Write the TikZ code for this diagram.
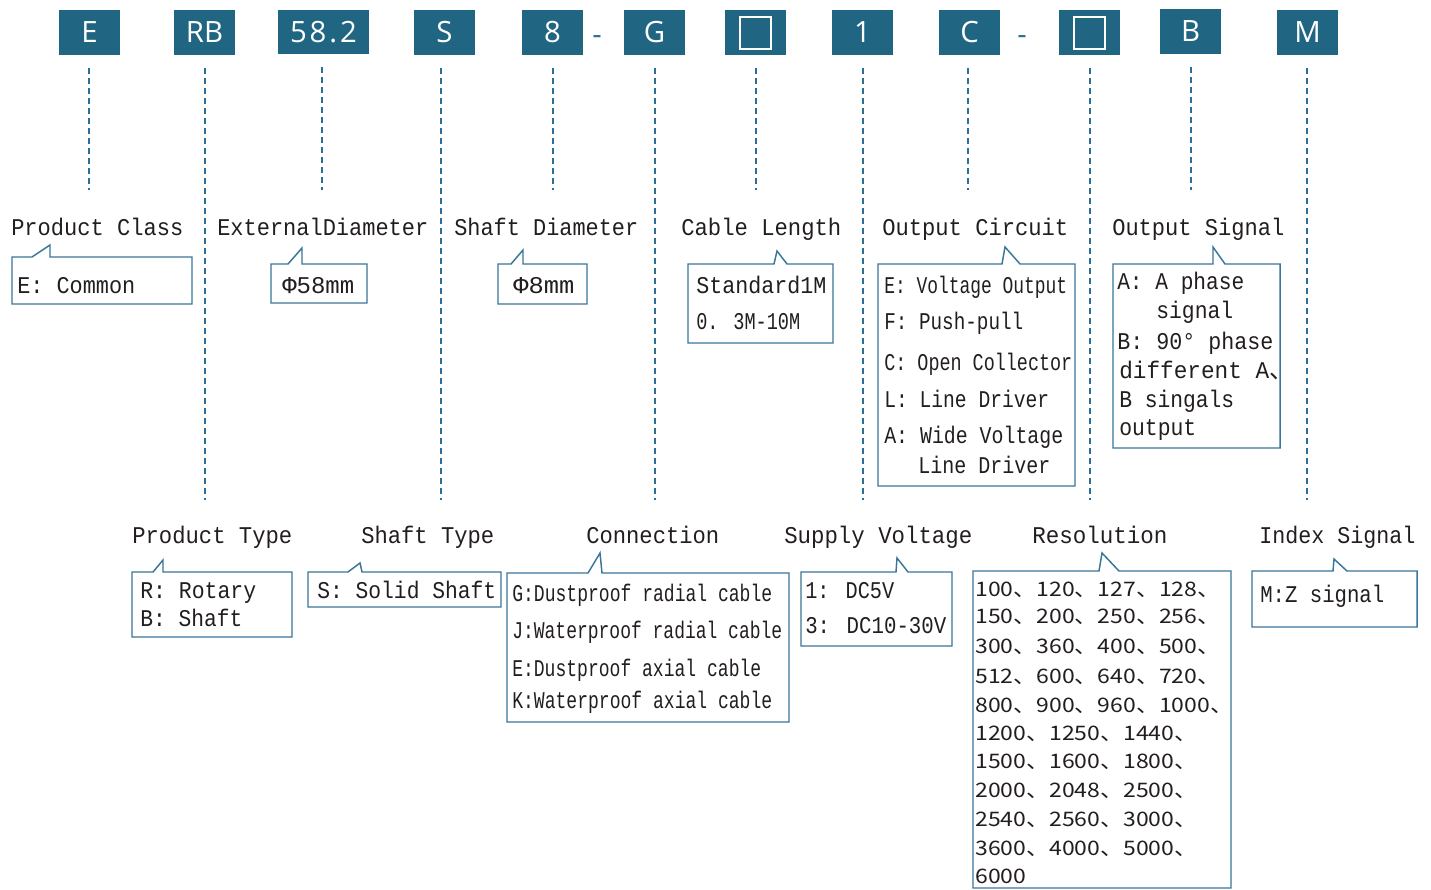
\documentclass[tikz,border=0pt]{standalone}
\usepackage{fontspec}
\usepackage{graphicx}
\usetikzlibrary{calc}
\setmainfont{Liberation Mono}[FakeStretch=0.91]
\newfontfamily\hdrfont{Open Sans}
\newfontfamily\cjk{Noto Sans CJK SC}
\newfontfamily\numfont{Noto Sans CJK SC}[FakeStretch=1.15]
\definecolor{hdr}{RGB}{32,101,130}
\definecolor{dl}{RGB}{46,110,150}
\definecolor{cb}{RGB}{58,118,152}
\definecolor{txt}{RGB}{35,30,30}
\newlength\upx \setlength\upx{0.75pt}
\newcommand\fw[2]{\resizebox{#1\upx}{\height}{#2}}
\newcommand\callout[8]{\draw[callout] (#5,#2) -- (#7,#8) -- (#6,#2) -- (#3,#2) -- (#3,#4) -- (#1,#4) -- (#1,#2) -- cycle;}
\begin{document}
\begin{tikzpicture}[x=0.75pt,y=-0.75pt,
  hbox/.style={fill=hdr, minimum width=45.75pt, minimum height=33.75pt, inner sep=0pt, text=white,
    font=\hdrfont\fontsize{22}{24}\selectfont, text height=15.6pt, text depth=0pt},
  dline/.style={draw=dl, line width=1.1pt, dash pattern=on 4.5pt off 3pt, shorten <=9.75pt},
  callout/.style={draw=cb, line width=1.1pt, line join=miter},
  lbl/.style={anchor=base west, inner sep=0pt, text=txt, font=\fontsize{18}{20}\selectfont},
  num/.style={anchor=base west, inner sep=0pt, text=txt, font=\numfont\fontsize{15}{17}\selectfont},
  hyph/.style={anchor=base, inner sep=0pt, text=dl, font=\hdrfont\fontsize{22}{24}\selectfont}]
\useasboundingbox (0,0) rectangle (1431,889);
\fill[white] (0,0) rectangle (1431,889);
% header codes
\node[hbox] (hE) at (89.5,32.5) {E};
\node[hbox] (hRB) at (204.5,32.5) {RB};
\node[hbox, minimum width=68.25pt, minimum height=33pt] (h58) at (323.5,32) {\addfontfeature{LetterSpace=10}58.2};
\node[hbox] (hS) at (444.5,32.5) {S};
\node[hbox] (h8) at (552.5,32.5) {8};
\node[hbox] (hG) at (654.5,32.5) {G};
\node[hbox] (hQ1) at (755.5,32.5) {};
\node[hbox] (h1) at (862.5,32.5) {1};
\node[hbox] (hC) at (969.5,32.5) {C};
\node[hbox] (hQ2) at (1089.5,32.5) {};
\node[hbox] (hB) at (1190.5,31.5) {B};
\node[hbox] (hM) at (1307.5,32.5) {M};
\draw[white, line width=1.5pt] ($(hQ1.center)+(-15.5,-16)$) rectangle ($(hQ1.center)+(15.5,16)$);
\draw[white, line width=1.5pt] ($(hQ2.center)+(-15.5,-16)$) rectangle ($(hQ2.center)+(15.5,16)$);
\node[hyph] (dash1) at (597,44) {-};
\node[hyph] (dash2) at (1022,44) {-};
% dashed leaders
\coordinate (eE) at (89,190);
\coordinate (eRB) at (205,500);
\coordinate (e58) at (322,190);
\coordinate (eS) at (441,500);
\coordinate (e8) at (553,190);
\coordinate (eG) at (655,500);
\coordinate (eQ1) at (756,190);
\coordinate (e1) at (863,500);
\coordinate (eC) at (968,190);
\coordinate (eQ2) at (1090,500);
\coordinate (eB) at (1191,190);
\coordinate (eM) at (1307,500);
\draw[dline] (hE.south -| eE) -- (eE);
\draw[dline] (hRB.south -| eRB) -- (eRB);
\draw[dline] (h58.south -| e58) -- (e58);
\draw[dline] (hS.south -| eS) -- (eS);
\draw[dline] (h8.south -| e8) -- (e8);
\draw[dline] (hG.south -| eG) -- (eG);
\draw[dline] (hQ1.south -| eQ1) -- (eQ1);
\draw[dline] (h1.south -| e1) -- (e1);
\draw[dline] (hC.south -| eC) -- (eC);
\draw[dline] (hQ2.south -| eQ2) -- (eQ2);
\draw[dline] (hB.south -| eB) -- (eB);
\draw[dline] (hM.south -| eM) -- (eM);
% top titles
\node[lbl] (tPC) at (11,235) {\fw{172}{Product Class}};
\node[lbl] (tED) at (217,235) {\fw{211}{ExternalDiameter}};
\node[lbl] (tSD) at (454,235) {\fw{184}{Shaft Diameter}};
\node[lbl] (tCL) at (681,235) {\fw{160}{Cable Length}};
\node[lbl] (tOC) at (882,235) {\fw{186}{Output Circuit}};
\node[lbl] (tOS) at (1112,235) {\fw{172}{Output Signal}};
% bottom titles
\node[lbl] (tPT) at (132,543) {\fw{160}{Product Type}};
\node[lbl] (tST) at (361,543) {\fw{133}{Shaft Type}};
\node[lbl] (tCN) at (586,543) {\fw{133}{Connection}};
\node[lbl] (tSV) at (784,543) {\fw{188}{Supply Voltage}};
\node[lbl] (tRS) at (1032,543) {\fw{135}{Resolution}};
\node[lbl] (tIS) at (1259,543) {\fw{156}{Index Signal}};
% callout frames
\callout{12}{257}{192}{304}{32}{50}{50}{245}
\callout{271}{264}{367}{303}{288}{302}{302}{248}
\callout{498}{264}{587}{304}{511}{523}{523}{250}
\callout{688}{264}{833}{343}{774}{787}{777}{251}
\callout{878}{264}{1075}{486}{1002}{1020}{1005}{247}
\callout{1113}{264}{1280}{448}{1213}{1225}{1213}{247}
\callout{132}{572}{292}{637}{153}{163}{163}{560}
\callout{308}{572}{501}{607}{348}{362}{360}{563}
\callout{507}{573}{789}{722}{588}{602}{600}{553}
\callout{801}{572}{952}{646}{896}{908}{897}{558}
\callout{973}{571}{1231}{888}{1099}{1119}{1102}{553}
\callout{1252}{571}{1417}{627}{1333}{1347}{1334}{559}
% callout texts
\node[lbl] (pc1) at (17,293) {\fw{118}{E: Common}};
\node[lbl] (ed1) at (282,293) {\fw{72}{Φ58mm}};
\node[lbl] (sd1) at (513,293) {\fw{61}{Φ8mm}};
\node[lbl] (cl1) at (696,293) {\fw{130}{Standard1M}};
\node[lbl] (cl2) at (696,329) {\fw{104}{0. 3M-10M}};
\node[lbl] (oc1) at (884,293) {\fw{183}{E: Voltage Output}};
\node[lbl] (oc2) at (884,329) {\fw{139}{F: Push-pull}};
\node[lbl] (oc3) at (884,370) {\fw{188}{C: Open Collector}};
\node[lbl] (oc4) at (884,407) {\fw{165}{L: Line Driver}};
\node[lbl] (oc5) at (884,443) {\fw{179}{A: Wide Voltage}};
\node[lbl] (oc6) at (918,473) {\fw{132}{Line Driver}};
\node[lbl] (os1) at (1117,289) {\fw{127}{A: A phase}};
\node[lbl] (os2) at (1156,318) {\fw{77}{signal}};
\node[lbl] (os3) at (1117,349) {\fw{156}{B: 90° phase}};
\node[lbl] (os4) at (1119,378) {\fw{150}{different A}{\cjk 、}};
\node[lbl] (os5) at (1119,407) {\fw{115}{B singals}};
\node[lbl] (os6) at (1119,435) {\fw{77}{output}};
\node[lbl] (pt1) at (140,598) {\fw{116}{R: Rotary}};
\node[lbl] (pt2) at (140,626) {\fw{102}{B: Shaft}};
\node[lbl] (st1) at (317,598) {\fw{179}{S: Solid Shaft}};
\node[lbl] (cn1) at (512,601) {\fw{260}{G:Dustproof radial cable}};
\node[lbl] (cn2) at (512,638) {\fw{270}{J:Waterproof radial cable}};
\node[lbl] (cn3) at (512,676) {\fw{249}{E:Dustproof axial cable}};
\node[lbl] (cn4) at (512,708) {\fw{260}{K:Waterproof axial cable}};
\node[lbl] (sv1) at (805,598) {\fw{89}{1: DC5V}};
\node[lbl] (sv2) at (805,633) {\fw{141}{3: DC10-30V}};
\node[lbl] (is1) at (1260,602) {\fw{124}{M:Z signal}};
% resolution list
\node[num] (r1) at (975,596) {100、120、127、128、};
\node[num] (r2) at (975,623) {150、200、250、256、};
\node[num] (r3) at (975,653) {300、360、400、500、};
\node[num] (r4) at (975,683) {512、600、640、720、};
\node[num] (r5) at (975,712) {800、900、960、1000、};
\node[num] (r6) at (975,740) {1200、1250、1440、};
\node[num] (r7) at (975,768) {1500、1600、1800、};
\node[num] (r8) at (975,797) {2000、2048、2500、};
\node[num] (r9) at (975,826) {2540、2560、3000、};
\node[num] (r10) at (975,855) {3600、4000、5000、};
\node[num] (r11) at (975,883) {6000};
\end{tikzpicture}
\end{document}
